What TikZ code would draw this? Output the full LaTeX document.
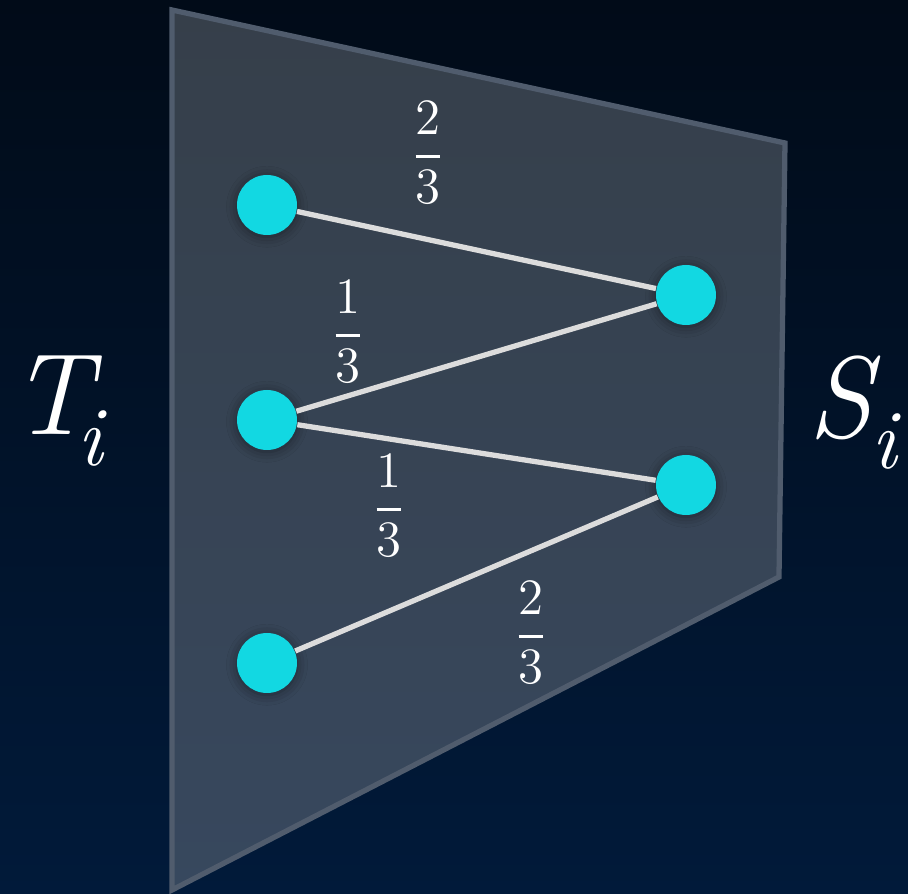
\documentclass[tikz,border=0pt]{standalone}
\usepackage{fontspec}
\usetikzlibrary{shadows.blur}
\definecolor{bgtop}{HTML}{010B18}
\definecolor{bgbot}{HTML}{011A3A}
\definecolor{paneltop}{HTML}{363F4A}
\definecolor{panelbot}{HTML}{37485E}
\definecolor{panelrim}{HTML}{505C6D}
\definecolor{dotcyan}{HTML}{12D8E2}
\definecolor{edgegray}{HTML}{DCDCDC}
% weight as a stacked fraction
\newcommand{\wt}[2]{$\displaystyle{\hbox{#1}\above 1.1pt\hbox{#2}}$}
% set name with subscript i
\newcommand{\setname}[2][0pt]{{\fontsize{33}{40}\selectfont\itshape #2}\kern#1\raisebox{-0.31cm}{\fontsize{24}{28}\selectfont\itshape i}}
\tikzset{
  vtx/.style={circle, fill=dotcyan, minimum size=0.6cm, inner sep=0pt,
    blur shadow={shadow xshift=0pt, shadow yshift=-0.5pt, shadow blur radius=3pt, shadow opacity=45}},
  edg/.style={draw=edgegray, line width=1.5pt},
  wlab/.style={text=white, font=\fontsize{14.5}{17}\selectfont, inner sep=0pt},
  setlab/.style={text=white, inner sep=0pt},
}
\begin{document}
\begin{tikzpicture}
  % background
  \shade[top color=bgtop, bottom color=bgbot] (0,0) rectangle (9.08,8.94);
  \useasboundingbox (0,0) rectangle (9.08,8.94);
  % panel
  \shade[top color=paneltop, bottom color=panelbot] (1.72,8.84) -- (7.85,7.51) -- (7.79,3.17) -- (1.72,0.04) -- cycle;
  \draw[panelrim, line width=1.5pt, line join=miter] (1.72,8.84) -- (7.85,7.51) -- (7.79,3.17) -- (1.72,0.04) -- cycle;
  % vertices
  \node[vtx] (t1) at (2.67,6.89) {};
  \node[vtx] (t2) at (2.67,4.74) {};
  \node[vtx] (t3) at (2.67,2.31) {};
  \node[vtx] (s1) at (6.86,5.99) {};
  \node[vtx] (s2) at (6.86,4.09) {};
  % edges
  \draw[edg] (t1) -- (s1);
  \draw[edg] (t2) -- (s1);
  \draw[edg] (t2) -- (s2);
  \draw[edg] (t3) -- (s2);
  % weights
  \node[wlab] (w1) at (4.28,7.41) {\wt{2}{3}};
  \node[wlab] (w2) at (3.48,5.62) {\wt{1}{3}};
  \node[wlab] (w3) at (3.89,3.88) {\wt{1}{3}};
  \node[wlab] (w4) at (5.31,2.61) {\wt{2}{3}};
  % set names
  \node[setlab, anchor=base west] (tname) at (0.10,4.59) {\setname[-4pt]{T}};
  \node[setlab, anchor=base east] (sname) at (8.98,4.56) {\setname{S}};
\end{tikzpicture}
\end{document}
